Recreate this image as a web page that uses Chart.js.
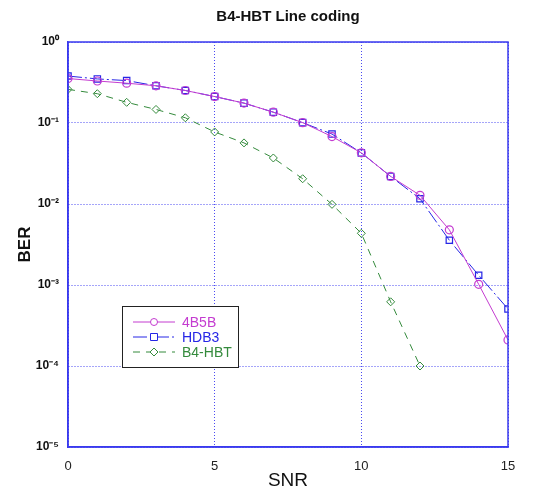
<!DOCTYPE html>
<html>
<head>
<meta charset="utf-8">
<script src="https://cdn.jsdelivr.net/npm/chart.js@4.4.0/dist/chart.umd.min.js"></script>
<style>
  html, body { margin: 0; padding: 0; background: #fff; }
  #wrap { width: 534px; height: 492px; }
</style>
</head>
<body>
<div id="wrap"><canvas id="berChart"></canvas></div>
<script>
const snr = [0, 1, 2, 3, 4, 5, 6, 7, 8, 9, 10, 11, 12, 13, 14, 15];
const ber4B5B = [0.354, 0.33, 0.31, 0.288, 0.252, 0.212, 0.176, 0.136, 0.101, 0.068, 0.0428, 0.0219, 0.0128, 0.0048, 0.00102, 0.00021];
const berHDB3 = [0.38, 0.35, 0.334, 0.288, 0.252, 0.212, 0.176, 0.136, 0.101, 0.073, 0.0428, 0.0219, 0.0116, 0.00357, 0.00132, 0.000506];
const berB4HBT = [0.26, 0.23, 0.18, 0.147, 0.116, 0.0775, 0.0568, 0.037, 0.0205, 0.0099, 0.00435, 0.00062, 0.0001];
const xTicks = [0, 5, 10, 15];
const yTicks = [1e-5, 1e-4, 1e-3, 1e-2, 1e-1, 1];
const yTickLabels = ["10\u207B\u2075", "10\u207B\u2074", "10\u207B\u00B3", "10\u207B\u00B2", "10\u207B\u00B9", "10\u2070"];
const chartTitle = "B4-HBT Line coding";

const toPoints = (ys) => ys.map((y, i) => ({ x: snr[i], y: y }));

// title centred over the plot area (not the whole canvas) + solid frame
const frame = {
    id: "frame",
    afterDraw(chart) {
        const { ctx, chartArea: a } = chart;
        ctx.save();
        ctx.strokeStyle = "#3a3aee";
        ctx.lineWidth = 1.5;
        ctx.strokeRect(a.left, a.top, a.right - a.left, a.bottom - a.top);
        ctx.fillStyle = "#111";
        ctx.font = "bold 15px 'Liberation Sans', Arial, sans-serif";
        ctx.textAlign = "center";
        ctx.textBaseline = "middle";
        ctx.fillText(chartTitle, (a.left + a.right) / 2, 17);
        ctx.restore();
    }
};

// legend box inside the plot: line sample with marker in the middle
const boxLegend = {
    id: "boxLegend",
    afterDraw(chart) {
        const { ctx } = chart;
        const x0 = 122, y0 = 306, w = 116, h = 61;
        ctx.save();
        ctx.fillStyle = "#fff";
        ctx.fillRect(x0, y0, w, h);
        ctx.strokeStyle = "#222";
        ctx.lineWidth = 1;
        ctx.strokeRect(x0 + 0.5, y0 + 0.5, w, h);
        ctx.font = "14px 'Liberation Sans', Arial, sans-serif";
        ctx.textBaseline = "middle";
        chart.data.datasets.forEach((ds, i) => {
            const y = y0 + 16 + i * 15;
            ctx.strokeStyle = ds.borderColor;
            ctx.lineWidth = 1;
            ctx.setLineDash(ds.borderDash || []);
            ctx.beginPath();
            ctx.moveTo(x0 + 11, y);
            ctx.lineTo(x0 + 53, y);
            ctx.stroke();
            ctx.setLineDash([]);
            const cx = x0 + 32;
            ctx.beginPath();
            if (ds.pointStyle === "circle") {
                ctx.arc(cx, y, 3.5, 0, Math.PI * 2);
            } else if (ds.pointStyle === "rect") {
                ctx.rect(cx - 3.5, y - 3.5, 7, 7);
            } else {
                ctx.moveTo(cx - 4, y); ctx.lineTo(cx, y - 4); ctx.lineTo(cx + 4, y); ctx.lineTo(cx, y + 4); ctx.closePath();
            }
            ctx.fillStyle = "#fff";
            ctx.fill();
            ctx.stroke();
            ctx.fillStyle = ds.borderColor;
            ctx.fillText(ds.label, x0 + 60, y + 1);
        });
        ctx.restore();
    }
};

new Chart(document.getElementById("berChart"), {
    type: "line",
    data: {
        datasets: [
            {
                label: "4B5B",
                data: toPoints(ber4B5B),
                borderColor: "#c43cd0",
                backgroundColor: "rgba(255,255,255,0)",
                borderWidth: 1,
                pointStyle: "circle",
                pointRadius: 4,
                pointBorderWidth: 1.2,
                fill: false
            },
            {
                label: "HDB3",
                data: toPoints(berHDB3),
                borderColor: "#2626e6",
                backgroundColor: "rgba(255,255,255,0)",
                borderWidth: 1,
                borderDash: [14, 3, 2, 3],
                pointStyle: "rect",
                pointRadius: 4.5,
                pointBorderWidth: 1.2,
                fill: false
            },
            {
                label: "B4-HBT",
                data: toPoints(berB4HBT),
                borderColor: "#348a3c",
                backgroundColor: "rgba(255,255,255,0)",
                borderWidth: 1,
                borderDash: [7, 6],
                pointStyle: "rectRot",
                pointRadius: 4,
                pointBorderWidth: 1,
                fill: false
            }
        ]
    },
    options: {
        responsive: true,
        maintainAspectRatio: false,
        animation: false,
        layout: { padding: { top: 42, right: 26, bottom: 0, left: 0 } },
        plugins: {
            legend: { display: false },
            tooltip: { enabled: false },
            title: { display: false }
        },
        scales: {
            x: {
                type: "linear",
                min: 0,
                max: 15,
                afterFit(scale) { scale.height = 45; },
                afterBuildTicks(scale) { scale.ticks = xTicks.map(v => ({ value: v })); },
                grid: { color: "#4a4af2", lineWidth: 1, drawTicks: false },
                border: { display: true, color: "#3a3aee", width: 1.5, dash: [1, 2] },
                ticks: {
                    padding: 12,
                    color: "#222",
                    font: { family: "'Liberation Sans', Arial, sans-serif", size: 13 }
                },
                title: {
                    display: true,
                    text: "SNR",
                    color: "#111",
                    font: { family: "'Liberation Sans', Arial, sans-serif", size: 19 },
                    padding: { top: 0, bottom: 0 }
                }
            },
            y: {
                type: "logarithmic",
                min: 1e-5,
                max: 1,
                afterFit(scale) { scale.width = 68; },
                afterBuildTicks(scale) { scale.ticks = yTicks.map(v => ({ value: v })); },
                grid: { color: "#4a4af2", lineWidth: 1, drawTicks: false },
                border: { display: true, color: "#3a3aee", width: 1.5, dash: [1, 2] },
                ticks: {
                    padding: 9,
                    color: "#111",
                    font: { family: "'Liberation Sans', Arial, sans-serif", size: 12, weight: "bold" },
                    callback: (v) => {
                        const i = yTicks.findIndex(t => Math.abs(Math.log10(t) - Math.log10(v)) < 1e-6);
                        return i >= 0 ? yTickLabels[i] : "";
                    }
                },
                title: {
                    display: true,
                    text: "BER",
                    color: "#111",
                    font: { family: "'Liberation Sans', Arial, sans-serif", size: 17, weight: "bold" },
                    padding: { top: 15, bottom: 0 }
                }
            }
        }
    },
    plugins: [frame, boxLegend]
});
</script>
</body>
</html>
